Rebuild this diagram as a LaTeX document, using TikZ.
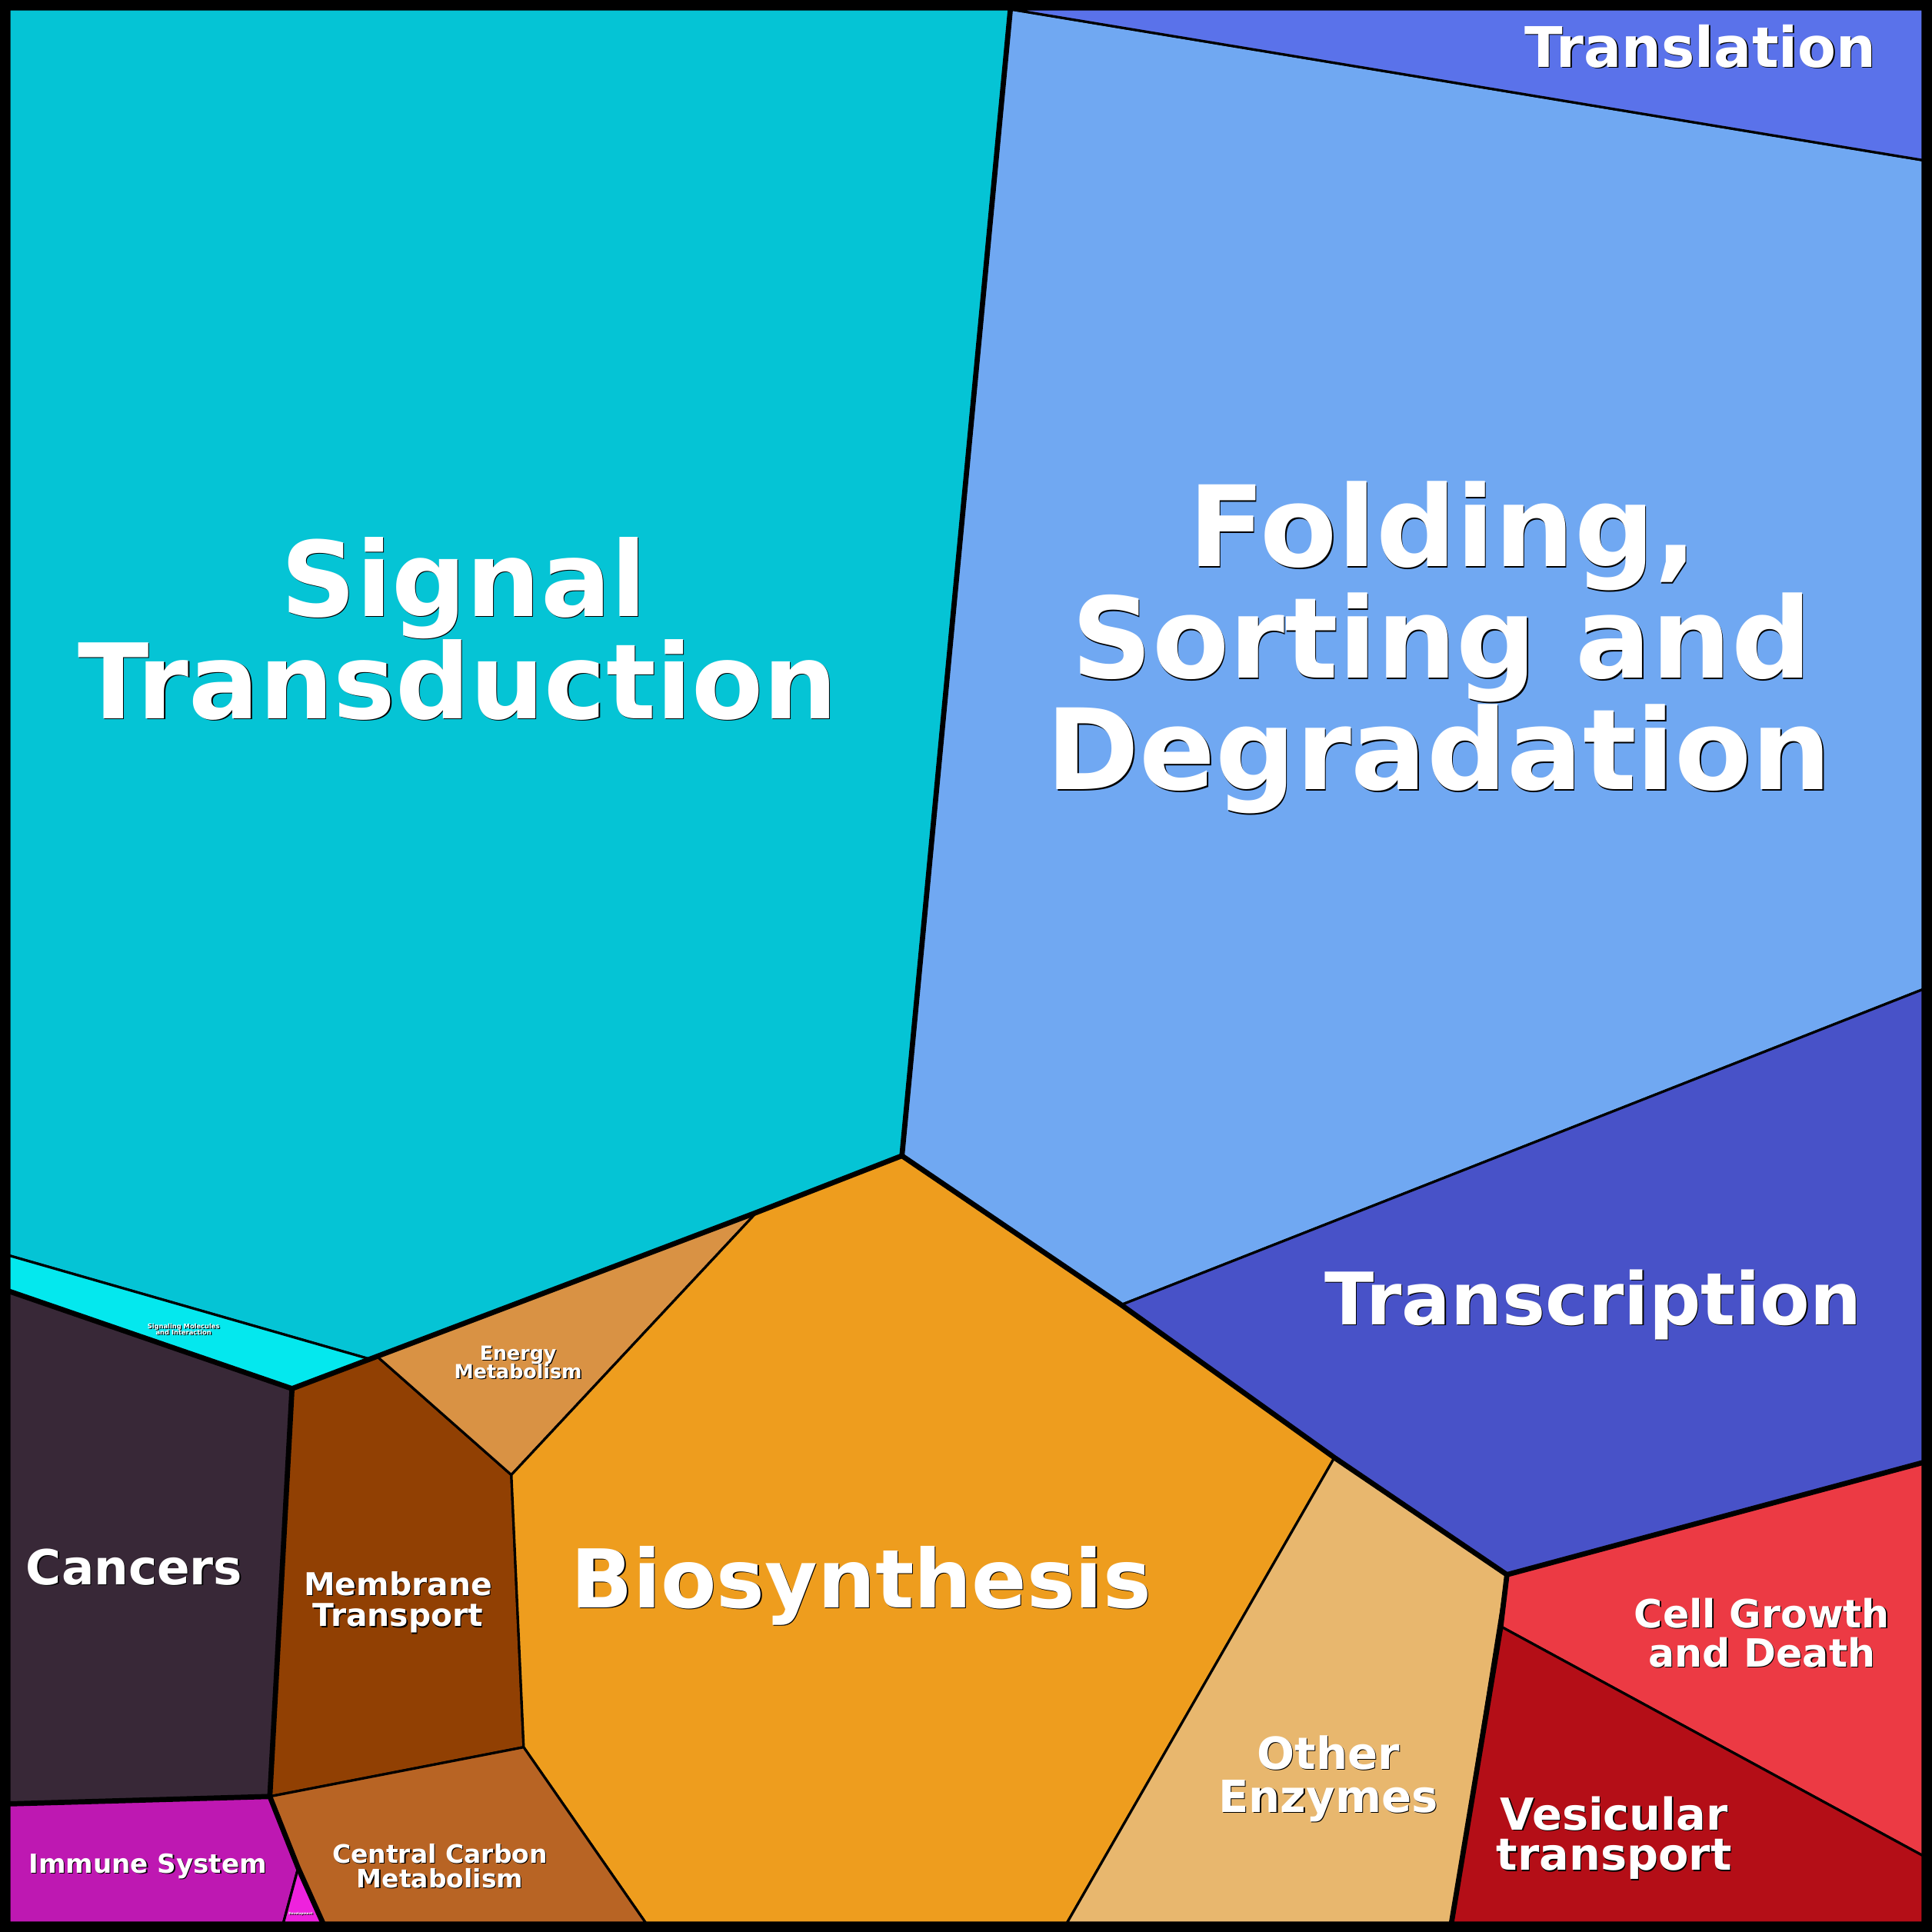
\documentclass[tikz,border=0pt]{standalone}
\usepackage{fontspec}
\setmainfont{DejaVu Sans}
\definecolor{cSig}{HTML}{05C4D5}
\definecolor{cMol}{HTML}{04E8EE}
\definecolor{cFold}{HTML}{70A8F2}
\definecolor{cTransl}{HTML}{5A72EA}
\definecolor{cTranscr}{HTML}{4852C8}
\definecolor{cBio}{HTML}{EE9D1E}
\definecolor{cEnergy}{HTML}{D99244}
\definecolor{cMemb}{HTML}{914003}
\definecolor{cCarb}{HTML}{B86424}
\definecolor{cOther}{HTML}{E8B76E}
\definecolor{cCancer}{HTML}{382837}
\definecolor{cImmune}{HTML}{BE18B2}
\definecolor{cDevel}{HTML}{EE22DD}
\definecolor{cGrowth}{HTML}{EC3A44}
\definecolor{cVesic}{HTML}{B40E17}
\newcommand\celllabel[5]{%
  \node[lblshadow,font=\fontsize{#4}{#4}\selectfont\bfseries] (#1s) at (#2+0.8,#3+0.8) {#5};
  \node[lbltext,font=\fontsize{#4}{#4}\selectfont\bfseries] (#1) at (#2,#3) {#5};}
\begin{document}
\begin{tikzpicture}[x=0.5pt,y=-0.5pt,
  cell/.style={draw=black,line width=1pt,line join=round},
  grp/.style={draw=black,line width=2.1pt,line join=round,line cap=round},
  lbltext/.style={anchor=base,inner sep=0pt,text=white},
  lblshadow/.style={anchor=base,inner sep=0pt,text=black}]
\useasboundingbox (0,0) rectangle (1568,1568);
\fill[black] (0,0) rectangle (1568,1568);
% corners of the inner frame
\coordinate (TL) at (7.5,7.5);
\coordinate (TRc) at (1560.5,7.5);
\coordinate (BL) at (7.5,1560.5);
\coordinate (BR) at (1560.5,1560.5);
% vertices on the frame
\coordinate (A) at (820,7.5);
\coordinate (TR1) at (1560.5,130);
\coordinate (TR2) at (1560.5,803);
\coordinate (TR3) at (1560.5,1187);
\coordinate (TR4) at (1560.5,1506);
\coordinate (LL1) at (7.5,1019);
\coordinate (LL2) at (7.5,1048);
\coordinate (LL3) at (7.5,1464);
\coordinate (BB1) at (230,1560.5);
\coordinate (BB2) at (262,1560.5);
\coordinate (BB3) at (524,1560.5);
\coordinate (BB4) at (866,1560.5);
\coordinate (BB5) at (1178,1560.5);
% inner vertices
\coordinate (B) at (732,938);
\coordinate (E1) at (614,984);
\coordinate (P) at (300,1103);
\coordinate (Q) at (306,1100.8);
\coordinate (C) at (237,1127);
\coordinate (D) at (219,1458);
\coordinate (F) at (415,1197);
\coordinate (G) at (425,1418);
\coordinate (H) at (242,1516);
\coordinate (K) at (910,1059);
\coordinate (M) at (1083,1183);
\coordinate (N) at (1223,1278);
\coordinate (O) at (1218,1320);
% cells
\filldraw[cell,fill=cSig] (TL) -- (A) -- (B) -- (E1) -- (P) -- (LL1) -- cycle;
\filldraw[cell,fill=cMol] (LL1) -- (P) -- (C) -- (LL2) -- cycle;
\filldraw[cell,fill=cCancer] (LL2) -- (C) -- (D) -- (LL3) -- cycle;
\filldraw[cell,fill=cMemb] (C) -- (Q) -- (F) -- (G) -- (D) -- cycle;
\filldraw[cell,fill=cEnergy] (Q) -- (E1) -- (F) -- cycle;
\filldraw[cell,fill=cBio] (E1) -- (B) -- (K) -- (M) -- (BB4) -- (BB3) -- (G) -- (F) -- cycle;
\filldraw[cell,fill=cCarb] (D) -- (G) -- (BB3) -- (BB2) -- (H) -- cycle;
\filldraw[cell,fill=cImmune] (LL3) -- (D) -- (H) -- (BB1) -- (BL) -- cycle;
\filldraw[cell,fill=cDevel] (H) -- (BB2) -- (BB1) -- cycle;
\filldraw[cell,fill=cOther] (M) -- (N) -- (BB5) -- (BB4) -- cycle;
\filldraw[cell,fill=cFold] (A) -- (TR1) -- (TR2) -- (K) -- (B) -- cycle;
\filldraw[cell,fill=cTransl] (A) -- (TRc) -- (TR1) -- cycle;
\filldraw[cell,fill=cTranscr] (K) -- (TR2) -- (TR3) -- (N) -- (M) -- cycle;
\filldraw[cell,fill=cGrowth] (N) -- (TR3) -- (TR4) -- (O) -- cycle;
\filldraw[cell,fill=cVesic] (O) -- (TR4) -- (BR) -- (BB5) -- cycle;
% group boundaries
\draw[grp] (A) -- (B);
\draw[grp] (B) -- (E1) -- (C);
\draw[grp] (LL2) -- (C) -- (D) -- (LL3);
\draw[grp] (D) -- (H) -- (BB2);
\draw[grp] (B) -- (K) -- (M) -- (N) -- (TR3);
\draw[grp] (N) -- (O) -- (BB5);
% labels
\celllabel{transl}{1380}{54.5}{22.7}{Translation}
\celllabel{sig1}{376.5}{500}{42.3}{Signal}
\celllabel{sig2}{371.5}{583}{42.3}{Transduction}
\celllabel{fold1}{1171}{460}{45.5}{Folding,}
\celllabel{fold2}{1170}{550.5}{45.5}{Sorting and}
\celllabel{fold3}{1168}{641}{45.5}{Degradation}
\celllabel{transcr}{1293}{1075}{29.4}{Transcription}
\celllabel{bio}{699}{1305}{32.9}{Biosynthesis}
\celllabel{canc}{109}{1286}{19.6}{Cancers}
\celllabel{memb1}{323}{1295}{12.75}{Membrane}
\celllabel{memb2}{323}{1320}{12.75}{Transport}
\celllabel{ener1}{420.5}{1103.7}{7.9}{Energy}
\celllabel{ener2}{420.5}{1119}{7.9}{Metabolism}
\celllabel{oth1}{1078}{1436}{18}{Other}
\celllabel{oth2}{1078}{1471}{18}{Enzymes}
\celllabel{grow1}{1430}{1321}{15.8}{Cell Growth}
\celllabel{grow2}{1430}{1353}{15.8}{and Death}
\celllabel{ves1}{1310}{1485}{17.9}{Vesicular}
\celllabel{ves2}{1310}{1518}{17.9}{transport}
\celllabel{imm}{120}{1520}{10.65}{Immune System}
\celllabel{carb1}{357}{1512}{10.3}{Central Carbon}
\celllabel{carb2}{357}{1532}{10.3}{Metabolism}
\celllabel{mol1}{149}{1078.2}{2.6}{Signaling Molecules}
\celllabel{mol2}{149}{1083.2}{2.6}{and Interaction}
\celllabel{dev}{244}{1554}{1.3}{Development}
\end{tikzpicture}
\end{document}
